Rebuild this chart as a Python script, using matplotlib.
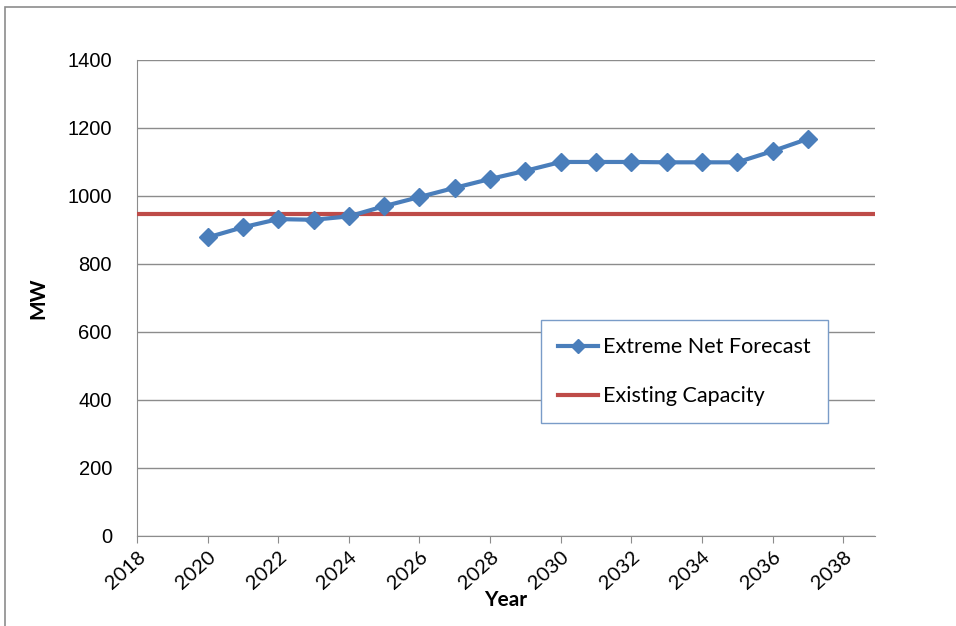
import numpy as np
import matplotlib.pyplot as plt
from matplotlib.patches import Rectangle

# data
years = [2020, 2021, 2022, 2023, 2024, 2025, 2026, 2027, 2028, 2029,
         2030, 2031, 2032, 2033, 2034, 2035, 2036, 2037]
forecast = [878, 908, 932, 930, 940, 970, 997, 1024, 1050, 1074,
            1100, 1100, 1100, 1099, 1099, 1099, 1132, 1168]
capacity = 947
xticks = list(range(2018, 2039, 2))
yticks = list(range(0, 1401, 200))

fig = plt.figure(figsize=(9.56, 6.26), dpi=100)
ax = fig.add_axes([0.1433, 0.1438, 0.772, 0.7604])

# outer chart frame
fig.patches.append(Rectangle((0.005, -0.02), 1.02, 1.009, transform=fig.transFigure,
                             fill=False, edgecolor='#8c8c8c', linewidth=1.2))

ax.plot(years, forecast, color='#4A7EBB', linewidth=3, marker='D', markersize=9,
        label='Extreme Net Forecast', zorder=4)
ax.axhline(capacity, color='#BE4B48', linewidth=3, label='Existing Capacity', zorder=3)

ax.set_xlim(2018, 2038.9)
ax.set_ylim(0, 1400)
ax.set_xticks(xticks)
ax.set_yticks(yticks)
ax.set_xticklabels([str(t) for t in xticks], rotation=42, ha='right', rotation_mode='anchor',
                   fontsize=14.5, family='Lato')
ax.set_yticklabels([str(t) for t in yticks], fontsize=14.5, family='Liberation Sans')
ax.grid(axis='y', color='#8c8c8c', linewidth=1)
ax.set_axisbelow(True)
for s in ['top', 'right']:
    ax.spines[s].set_visible(False)
for s in ['left', 'bottom']:
    ax.spines[s].set_color('#8c8c8c')
ax.tick_params(axis='x', length=5, color='#8c8c8c', pad=4)
ax.tick_params(axis='y', length=0, pad=18)

ax.set_xlabel('Year', fontsize=15, fontweight='bold', family='Lato', labelpad=-2)
ax.set_ylabel('MW', fontsize=15, fontweight='bold', family='Lato', labelpad=14)

leg = ax.legend(loc='upper left', bbox_to_anchor=(0.547, 0.454), borderaxespad=0,
                prop={'family': 'Lato', 'size': 15.5}, fancybox=False, markerscale=0.8,
                framealpha=1, handlelength=1.86, handletextpad=0.23, labelspacing=1.35,
                borderpad=0.8)
leg.get_frame().set_edgecolor('#7a9cc8')
leg.get_frame().set_linewidth(1)

fig.savefig('out.png', dpi=100)
